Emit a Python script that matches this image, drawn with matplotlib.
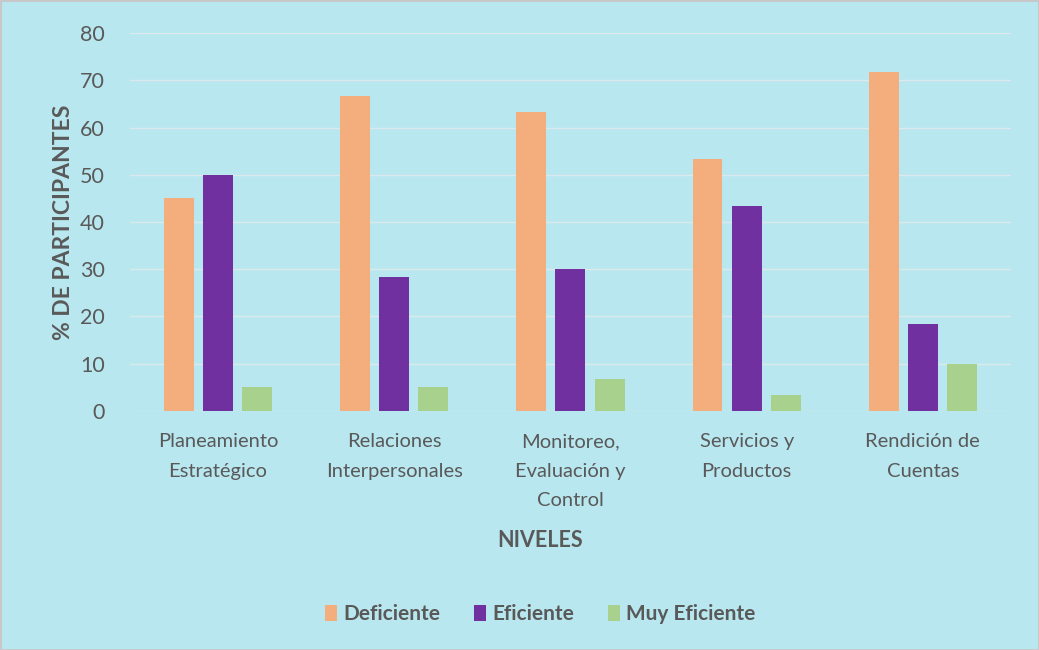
import numpy as np
import matplotlib
matplotlib.use("Agg")
import matplotlib.pyplot as plt
from matplotlib.patches import Patch

# data (percent of participants)
niveles = ["Planeamiento\nEstratégico", "Relaciones\nInterpersonales",
           "Monitoreo,\nEvaluación y\nControl", "Servicios y\nProductos",
           "Rendición de\nCuentas"]
series = ["Deficiente", "Eficiente", "Muy Eficiente"]
deficiente = [45.0, 66.7, 63.3, 53.3, 71.7]
eficiente = [50.0, 28.3, 30.0, 43.3, 18.3]
muy_eficiente = [5.0, 5.0, 6.7, 3.3, 10.0]
yticks = [0, 10, 20, 30, 40, 50, 60, 70, 80]

colors = ["#F4AE7E", "#7030A0", "#A9D18E"]
bg = "#B9E7EF"
txt = "#595959"

plt.rcParams['font.family'] = ['Lato', 'DejaVu Sans']

fig = plt.figure(figsize=(10.39, 6.5), dpi=100)
fig.patch.set_facecolor(bg)
fig.patch.set_edgecolor("#C8C8C8")
fig.patch.set_linewidth(2)

ax = fig.add_axes([0.125, 0.368, 0.848, 0.581])
ax.set_facecolor("none")

x = np.arange(len(niveles))
w = 0.17
step = 0.222
for i, (vals, c) in enumerate(zip([deficiente, eficiente, muy_eficiente], colors)):
    ax.bar(x + (i - 1) * step, vals, width=w, color=c, zorder=3)

ax.set_xlim(-0.5, len(niveles) - 0.5)
ax.set_ylim(0, 80)
ax.set_yticks(yticks)
ax.yaxis.grid(True, color="#DCE9EC", linewidth=1, zorder=0)
ax.tick_params(axis="y", length=0, labelsize=15.5, labelcolor=txt, pad=18)
ax.tick_params(axis="x", length=0, labelsize=14.5, labelcolor=txt, pad=16)
ax.set_xticks(x)
ax.set_xticklabels(niveles, linespacing=1.9)
for s in ax.spines.values():
    s.set_visible(False)

ax.set_ylabel("% DE PARTICIPANTES", fontsize=16.5, fontweight="bold", color=txt, labelpad=4)
fig.text(0.52, 0.168, "NIVELES", ha="center", va="center", fontsize=15.5,
         fontweight="bold", color=txt)

handles = [Patch(facecolor=c, label=s) for c, s in zip(colors, series)]
leg = fig.legend(handles=handles, loc="center", bbox_to_anchor=(0.52, 0.055), ncol=3,
                 frameon=False, fontsize=15, handlelength=0.6, handleheight=0.75,
                 handletextpad=0.3, columnspacing=1.6)
for t in leg.get_texts():
    t.set_color(txt)
    t.set_fontweight("bold")

fig.savefig("out.png", dpi=100, facecolor=fig.get_facecolor(), edgecolor=fig.get_edgecolor())
